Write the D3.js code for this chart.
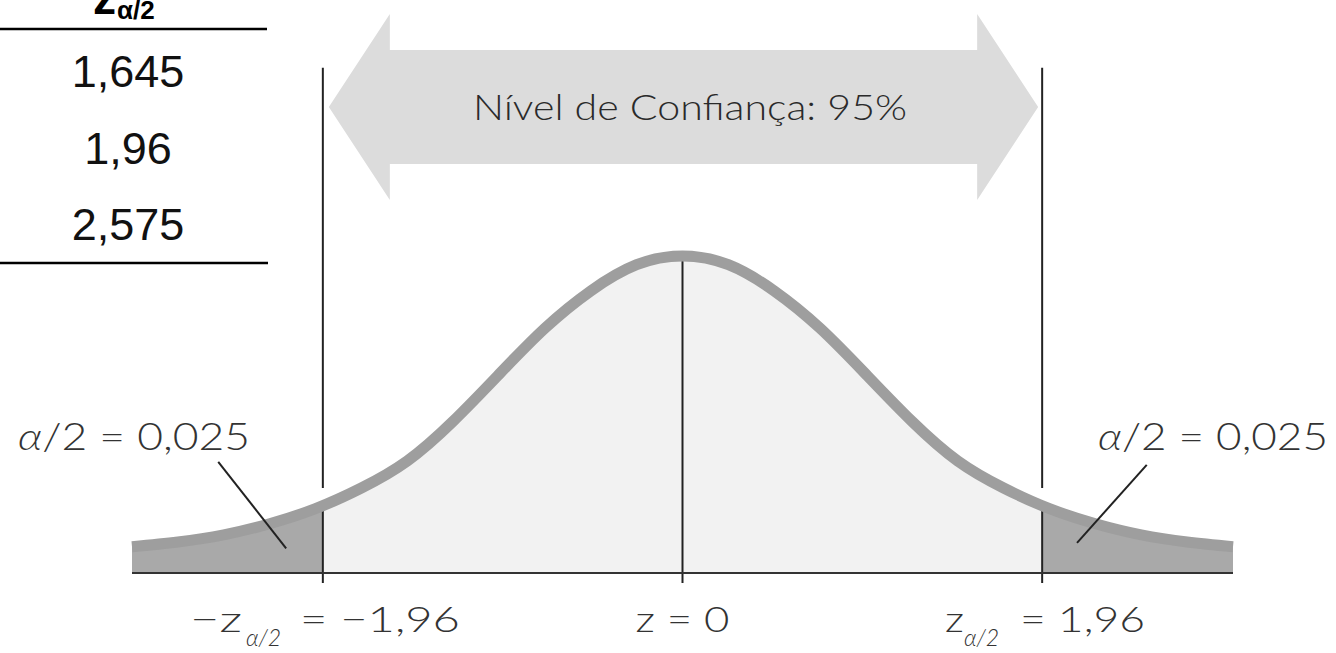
<!DOCTYPE html>
<html>
<head>
<meta charset="utf-8">
<script src="https://cdn.jsdelivr.net/npm/d3@7"></script>
<style>
  html, body { margin: 0; padding: 0; background: #fff; }
  svg { display: block; }
</style>
</head>
<body>
<svg id="chart" width="1336" height="653"></svg>
<script>
// ---------- data ----------
const zValues = [-3, -2.75, -2.5, -2.25, -2, -1.75, -1.5, -1.25, -1, -0.75, -0.5, -0.25, 0,
                 0.25, 0.5, 0.75, 1, 1.25, 1.5, 1.75, 2, 2.25, 2.5, 2.75, 3];
const densityValues = [0.033, 0.039, 0.048, 0.062, 0.081, 0.107, 0.141, 0.191, 0.250, 0.308, 0.355, 0.388, 0.399,
                       0.388, 0.355, 0.308, 0.250, 0.191, 0.141, 0.107, 0.081, 0.062, 0.048, 0.039, 0.033];
const criticalZ = [-1.96, 0, 1.96];
const tableValues = ["1,645", "1,96", "2,575"];
const confidenceLabel = "Nível de Confiança: 95%";
const tailLabel = "α/2 = 0,025";

// ---------- layout ----------
const svg = d3.select("#chart");
const x = d3.scaleLinear().domain([-3, 3]).range([132, 1233]);
const y = d3.scaleLinear().domain([0, 0.399]).range([573, 256]);
const pts = zValues.map((z, i) => ({ z, d: densityValues[i] }));
const labelFont = "'Lato', 'Open Sans', 'DejaVu Sans', sans-serif";

// ---------- table ----------
const tbl = svg.append("g");
tbl.append("text").attr("x", 93).attr("y", 14)
  .attr("font-family", "'Liberation Sans', Arial, sans-serif").attr("font-weight", "bold")
  .attr("font-size", 46).attr("fill", "#000").text("z");
tbl.append("text").attr("x", 117).attr("y", 19)
  .attr("font-family", "'Liberation Sans', Arial, sans-serif").attr("font-weight", "bold")
  .attr("font-size", 26).attr("fill", "#000").text("α/2");
tbl.append("line").attr("x1", 0).attr("x2", 267).attr("y1", 29).attr("y2", 29)
  .attr("stroke", "#000").attr("stroke-width", 2.5);
tbl.append("line").attr("x1", 0).attr("x2", 268).attr("y1", 263).attr("y2", 263)
  .attr("stroke", "#000").attr("stroke-width", 2.5);
const rowY = d3.scalePoint().domain(tableValues).range([87, 240]);
tbl.selectAll("text.val").data(tableValues).join("text").attr("class", "val")
  .attr("x", 128).attr("y", d => rowY(d)).attr("text-anchor", "middle")
  .attr("font-family", "'Liberation Sans', Arial, sans-serif").attr("font-size", 45)
  .attr("fill", "#111").text(d => d);

// ---------- arrow ----------
const aL = x(-1.96) + 6, aR = x(1.96) - 4, aCy = 107;
const headLen = 61, bodyH = 57, headH = 93;
const arrowPts = [
  [aL, aCy], [aL + headLen, aCy - headH], [aL + headLen, aCy - bodyH],
  [aR - headLen, aCy - bodyH], [aR - headLen, aCy - headH], [aR, aCy],
  [aR - headLen, aCy + headH], [aR - headLen, aCy + bodyH],
  [aL + headLen, aCy + bodyH], [aL + headLen, aCy + headH]
];
svg.append("path").attr("d", d3.line()(arrowPts) + "Z").attr("fill", "#dcdcdc");
svg.append("text").attr("x", 473).attr("y", 120)
  .attr("font-family", labelFont).attr("font-weight", 300)
  .attr("font-size", 36).attr("fill", "#2a2a2a")
  .attr("textLength", 434).attr("lengthAdjust", "spacingAndGlyphs")
  .text(confidenceLabel);

// ---------- clips ----------
const defs = svg.append("defs");
defs.append("clipPath").attr("id", "clipMid").append("rect")
  .attr("x", x(-1.96)).attr("y", 0).attr("width", x(1.96) - x(-1.96)).attr("height", 653);
const ct = defs.append("clipPath").attr("id", "clipTails");
ct.append("rect").attr("x", 0).attr("y", 0).attr("width", x(-1.96)).attr("height", 653);
ct.append("rect").attr("x", x(1.96)).attr("y", 0).attr("width", 1336 - x(1.96)).attr("height", 653);

// ---------- curve ----------
const area = d3.area().x(d => x(d.z)).y0(y(0)).y1(d => y(d.d)).curve(d3.curveNatural);
const line = d3.line().x(d => x(d.z)).y(d => y(d.d)).curve(d3.curveNatural);
svg.append("path").attr("d", area(pts)).attr("fill", "#f2f2f2").attr("clip-path", "url(#clipMid)");
svg.append("path").attr("d", area(pts)).attr("fill", "#a9a9a9").attr("clip-path", "url(#clipTails)");

// guide lines
const guideTop = 0.636, guideGapEnd = 0.107, tickBottom = -0.0126;
[-1.96, 1.96].forEach(z => {
  svg.append("line").attr("x1", x(z)).attr("x2", x(z)).attr("y1", y(guideTop)).attr("y2", y(guideGapEnd))
    .attr("stroke", "#222").attr("stroke-width", 2);
  svg.append("line").attr("x1", x(z)).attr("x2", x(z)).attr("y1", y(tickBottom)).attr("y2", y(0.081))
    .attr("stroke", "#222").attr("stroke-width", 2);
});
svg.append("line").attr("x1", x(0)).attr("x2", x(0)).attr("y1", y(tickBottom)).attr("y2", y(0.399))
  .attr("stroke", "#222").attr("stroke-width", 2);

// band
svg.append("path").attr("d", line(pts)).attr("fill", "none")
  .attr("stroke", "#9e9e9e").attr("stroke-width", 11);

// baseline
svg.append("line").attr("x1", x(-3)).attr("x2", x(3)).attr("y1", y(0)).attr("y2", y(0))
  .attr("stroke", "#333").attr("stroke-width", 2);

// ---------- tail annotations ----------
const leaders = [
  { from: [-2.53, 0.140], to: [-2.16, 0.031] },
  { from: [2.53, 0.136], to: [2.15, 0.038] }
];
leaders.forEach(l => svg.append("line")
  .attr("x1", x(l.from[0])).attr("y1", y(l.from[1]))
  .attr("x2", x(l.to[0])).attr("y2", y(l.to[1]))
  .attr("stroke", "#222").attr("stroke-width", 2));

function tailText(xs, xe) {
  const t = svg.append("text").attr("x", xs).attr("y", 450)
    .attr("font-family", labelFont).attr("font-weight", 300)
    .attr("font-size", 37).attr("fill", "#333")
    .attr("textLength", xe - xs).attr("lengthAdjust", "spacingAndGlyphs");
  t.append("tspan").attr("font-style", "italic").text("α");
  t.append("tspan").text(tailLabel.slice(1));
}
tailText(18, 250);
tailText(1098, 1328);

// ---------- bottom labels ----------
function lbl(xp, yp, txt, size, italic, anchor) {
  return svg.append("text").attr("x", xp).attr("y", yp)
    .attr("font-family", labelFont).attr("font-weight", 300)
    .attr("font-size", size).attr("fill", "#333")
    .attr("font-style", italic ? "italic" : "normal")
    .attr("text-anchor", anchor || "start").text(txt);
}
// left
lbl(190, 632, "−z", 36).attr("textLength", 52).attr("lengthAdjust", "spacingAndGlyphs");
lbl(246, 646, "α/2", 23, true);
lbl(300, 632, "= −1,96", 36).attr("textLength", 160).attr("lengthAdjust", "spacingAndGlyphs");
// center
lbl(x(0), 632, "z = 0", 36, false, "middle").attr("textLength", 94).attr("lengthAdjust", "spacingAndGlyphs");
// right
lbl(945, 632, "z", 36).attr("textLength", 19).attr("lengthAdjust", "spacingAndGlyphs");
lbl(964, 646, "α/2", 23, true);
lbl(1020, 632, "= 1,96", 36).attr("textLength", 125).attr("lengthAdjust", "spacingAndGlyphs");
</script>
</body>
</html>
